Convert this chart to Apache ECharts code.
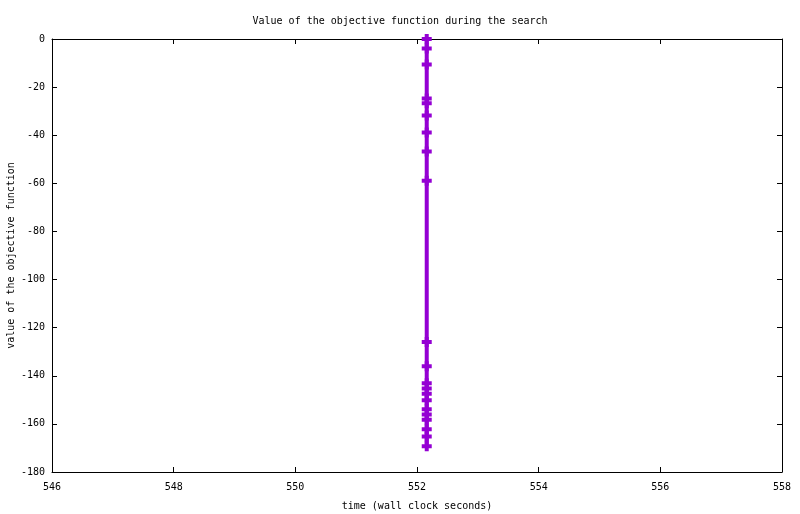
<!DOCTYPE html>
<html>
<head>
<meta charset="utf-8">
<script src="https://cdn.jsdelivr.net/npm/echarts@6/dist/echarts.min.js"></script>
<style>
  html, body { margin: 0; padding: 0; background: #fff; }
  #main { width: 800px; height: 514px; }
</style>
</head>
<body>
<div id="main"></div>
<script>
// time of each evaluation (wall clock seconds)
var times = [552.16, 552.16, 552.16, 552.16, 552.16, 552.16, 552.16, 552.16, 552.16,
             552.16, 552.16, 552.16, 552.16, 552.16, 552.16, 552.16, 552.16, 552.16,
             552.16, 552.16, 552.16];
// value of the objective function at each evaluation
var values = [0, -4, -10.6, -24.7, -26.7, -31.8, -38.9, -46.8, -58.9,
              -126, -136, -143.1, -145.3, -147.5, -150.2, -153.9, -156.1, -158.3,
              -162.2, -165.2, -169.3];
var xTicks = [546, 548, 550, 552, 554, 556, 558];
var yTicks = [-180, -160, -140, -120, -100, -80, -60, -40, -20, 0];

var points = [];
for (var i = 0; i < times.length; i++) {
    points.push([times[i], values[i]]);
}

var font = '"DejaVu Sans Mono", "Liberation Mono", monospace';
var plus = 'path://M3,0 L7,0 L7,3 L10,3 L10,7 L7,7 L7,10 L3,10 L3,7 L0,7 L0,3 L3,3 Z';

var axisLine = { show: true, onZero: false, lineStyle: { color: '#000', width: 1 } };
var tickIn = { show: true, inside: true, length: 5, lineStyle: { color: '#000', width: 1 } };

var myChart = echarts.init(document.getElementById('main'));
myChart.setOption({
    animation: false,
    backgroundColor: '#fff',
    title: {
        text: 'Value of the objective function during the search',
        left: 'center',
        top: 11,
        textStyle: { fontFamily: font, fontSize: 10, fontWeight: 'normal', color: '#000' }
    },
    grid: { left: 52, right: 18, top: 39, bottom: 42, containLabel: false, outerBoundsMode: 'none' },
    xAxis: [{
        type: 'value',
        position: 'bottom',
        min: xTicks[0],
        max: xTicks[xTicks.length - 1],
        interval: 2,
        name: 'time (wall clock seconds)',
        nameLocation: 'middle',
        nameGap: 29,
        nameMoveOverlap: false,
        nameTextStyle: { fontFamily: font, fontSize: 10, color: '#000' },
        axisLine: axisLine,
        axisTick: tickIn,
        splitLine: { show: false },
        axisLabel: { fontFamily: font, fontSize: 10, color: '#000', margin: 10 }
    }, {
        type: 'value',
        position: 'top',
        min: xTicks[0],
        max: xTicks[xTicks.length - 1],
        interval: 2,
        axisLine: axisLine,
        axisTick: tickIn,
        splitLine: { show: false },
        axisLabel: { show: false }
    }],
    yAxis: [{
        type: 'value',
        position: 'left',
        min: yTicks[0],
        max: yTicks[yTicks.length - 1],
        interval: 20,
        name: 'value of the objective function',
        nameLocation: 'middle',
        nameGap: 36,
        nameRotate: 90,
        nameMoveOverlap: false,
        nameTextStyle: { fontFamily: font, fontSize: 10, color: '#000' },
        axisLine: axisLine,
        axisTick: tickIn,
        splitLine: { show: false },
        axisLabel: { fontFamily: font, fontSize: 10, color: '#000', margin: 7 }
    }, {
        type: 'value',
        position: 'right',
        min: yTicks[0],
        max: yTicks[yTicks.length - 1],
        interval: 20,
        axisLine: axisLine,
        axisTick: tickIn,
        splitLine: { show: false },
        axisLabel: { show: false }
    }],
    series: [{
        type: 'line',
        data: points,
        clip: false,
        symbol: plus,
        symbolSize: 10,
        showAllSymbol: true,
        lineStyle: { color: '#9400d3', width: 4 },
        itemStyle: { color: '#9400d3', borderWidth: 0 }
    }]
});
</script>
</body>
</html>
